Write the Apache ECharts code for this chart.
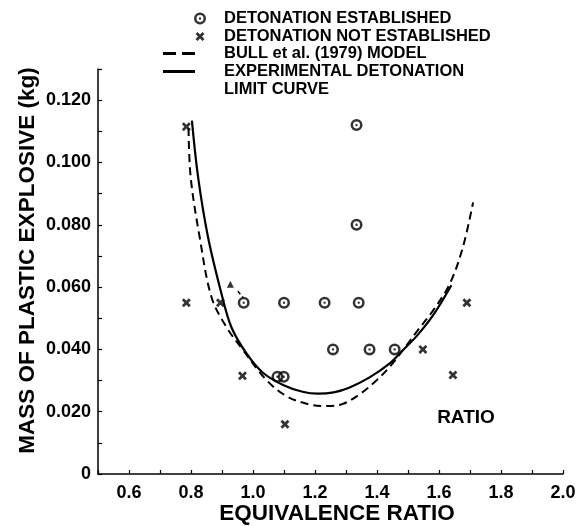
<!DOCTYPE html>
<html>
<head>
<meta charset="utf-8">
<script src="https://cdn.jsdelivr.net/npm/echarts@6/dist/echarts.min.js"></script>
<style>html,body{margin:0;padding:0;background:#fff;}#c{width:587px;height:526px;}</style>
</head>
<body>
<div id="c"></div>
<script>
// ---- data ----
const established = [
  [1.334, 0.112], [1.334, 0.080],
  [0.970, 0.055], [1.100, 0.055], [1.231, 0.055], [1.341, 0.055],
  [1.258, 0.040], [1.376, 0.040], [1.457, 0.040],
  [1.079, 0.0312], [1.099, 0.0312]
];
const notEstablished = [
  [0.785, 0.1115], [0.785, 0.055], [0.895, 0.055], [0.966, 0.0315],
  [1.103, 0.016], [1.548, 0.040], [1.645, 0.0318], [1.690, 0.055]
];
const bullModel = [
  [0.792, 0.111], [0.799, 0.0952], [0.828, 0.0760], [0.866, 0.0568],
  [0.914, 0.0472], [0.968, 0.0398], [1.043, 0.0302], [1.108, 0.0250],
  [1.183, 0.0223], [1.240, 0.0218], [1.290, 0.0225], [1.344, 0.0256],
  [1.398, 0.0300], [1.441, 0.0344], [1.484, 0.0398], [1.532, 0.0462],
  [1.581, 0.0525], [1.635, 0.0611], [1.677, 0.0728], [1.710, 0.0872]
];
const experimental = [
  [0.803, 0.1134], [0.823, 0.0952], [0.855, 0.0760], [0.898, 0.0580],
  [0.930, 0.0472], [0.979, 0.0387], [1.032, 0.0325], [1.097, 0.0286],
  [1.160, 0.0264], [1.210, 0.0258], [1.260, 0.0262], [1.310, 0.0277],
  [1.376, 0.0310], [1.441, 0.0355], [1.484, 0.0398], [1.530, 0.0445],
  [1.580, 0.0508], [1.640, 0.0606]
];
const triangle = [[0.927, 0.0609]];
const arrow = [[0.951, 0.0587], [0.968, 0.0566]];
const xTickLabels = ['0.6', '0.8', '1.0', '1.2', '1.4', '1.6', '1.8', '2.0'];
const yTickLabels = ['0', '0.020', '0.040', '0.060', '0.080', '0.100', '0.120'];

const FONT = '"Liberation Sans", Arial, Helvetica, sans-serif';
const ringPath = 'path://M0,10A10,10,0,1,1,20,10A10,10,0,1,1,0,10Z' +
  'M4.2,10A5.8,5.8,0,1,0,15.8,10A5.8,5.8,0,1,0,4.2,10Z' +
  'M8,10A2,2,0,1,1,12,10A2,2,0,1,1,8,10Z';
const crossPath = 'path://M0,2.2L2.2,0L5,2.8L7.8,0L10,2.2L7.2,5L10,7.8L7.8,10L5,7.2L2.2,10L0,7.8L2.8,5Z';
const dashIcon = 'path://M0,0H13V3H0ZM19,0H32V3H19Z';
const solidIcon = 'path://M0,0H32V3H0Z';

const legendText = (gap) => ({
  color: '#000', fontWeight: 'bold', fontSize: 16.5, fontFamily: FONT,
  rich: { s: { width: gap } }
});

const chart = echarts.init(document.getElementById('c'), null, { renderer: 'canvas' });
chart.setOption({
  animation: false,
  backgroundColor: '#fff',
  grid: { left: 98, right: 24, top: 69, bottom: 52, outerBoundsMode: 'none', containLabel: false },
  legend: [
    { data: ['DETONATION ESTABLISHED'], left: 194, top: 10, padding: 0, itemWidth: 12, itemHeight: 12,
      selectedMode: false, formatter: n => '{s| }' + n, textStyle: legendText(13) },
    { data: ['DETONATION NOT ESTABLISHED'], left: 195.5, top: 28, padding: 0, itemWidth: 9, itemHeight: 9,
      selectedMode: false, formatter: n => '{s| }' + n, textStyle: legendText(14.5) },
    { data: ['BULL et al. (1979) MODEL'], left: 163, top: 45, padding: 0, itemWidth: 32, itemHeight: 14,
      icon: dashIcon, itemStyle: { color: '#000' },
      selectedMode: false, formatter: n => '{s| }' + n, textStyle: legendText(24) },
    { data: ['EXPERIMENTAL DETONATION LIMIT CURVE'], left: 163, top: 63, padding: 0, itemWidth: 32, itemHeight: 14,
      icon: solidIcon, itemStyle: { color: '#000' },
      selectedMode: false, formatter: () => '{s| }EXPERIMENTAL DETONATION', textStyle: legendText(24) }
  ],
  graphic: [
    { type: 'text', left: 224, top: 81, style: { text: 'LIMIT CURVE', fill: '#000', font: 'bold 16.5px ' + FONT } },
    { type: 'text', x: 466, y: 418, style: { text: 'RATIO', fill: '#000', font: 'bold 19px ' + FONT, align: 'center', verticalAlign: 'middle' } }
  ],
  xAxis: {
    type: 'value', min: 0.5, max: 2.0, interval: 0.1,
    name: 'EQUIVALENCE RATIO', nameLocation: 'middle', nameGap: 28, nameMoveOverlap: false,
    nameTextStyle: { color: '#000', fontWeight: 'bold', fontSize: 22.5, fontFamily: FONT, padding: [0, 0, 0, 13] },
    axisLine: { lineStyle: { color: '#000', width: 1.5 } },
    axisTick: { inside: true, length: 4, lineStyle: { color: '#000', width: 1.2 } },
    splitLine: { show: false },
    axisLabel: {
      color: '#000', fontWeight: 'bold', fontSize: 18, fontFamily: FONT, margin: 10,
      formatter: v => { const s = v.toFixed(1); return xTickLabels.includes(s) ? s : ''; }
    }
  },
  yAxis: {
    type: 'value', min: 0, max: 0.13, interval: 0.01,
    name: 'MASS OF PLASTIC EXPLOSIVE (kg)', nameLocation: 'middle', nameGap: 59, nameRotate: 90, nameMoveOverlap: false,
    nameTextStyle: { color: '#000', fontWeight: 'bold', fontSize: 22.5, fontFamily: FONT, padding: [0, 0, 0, 22] },
    axisLine: { show: true, lineStyle: { color: '#000', width: 1.5 } },
    axisTick: { show: true, inside: true, length: 4, lineStyle: { color: '#000', width: 1.2 } },
    splitLine: { show: false },
    axisLabel: {
      color: '#000', fontWeight: 'bold', fontSize: 18, fontFamily: FONT, margin: 7,
      formatter: v => { const s = Math.round(v * 100) === 0 ? '0' : v.toFixed(3); return yTickLabels.includes(s) ? s : ''; }
    }
  },
  series: [
    { name: 'BULL et al. (1979) MODEL', type: 'line', data: bullModel, smooth: 0.35, symbol: 'none',
      lineStyle: { color: '#000', width: 2, type: [8, 5] }, itemStyle: { color: '#000' }, z: 2 },
    { name: 'EXPERIMENTAL DETONATION LIMIT CURVE', type: 'line', data: experimental, smooth: 0.35, symbol: 'none',
      lineStyle: { color: '#000', width: 2.2 }, itemStyle: { color: '#000' }, z: 2 },
    { name: 'DETONATION ESTABLISHED', type: 'scatter', data: established, symbol: ringPath, symbolSize: 12,
      itemStyle: { color: '#000' }, z: 3 },
    { name: 'DETONATION NOT ESTABLISHED', type: 'scatter', data: notEstablished, symbol: crossPath, symbolSize: 9,
      itemStyle: { color: '#000' }, z: 3 },
    { name: 'triangle', type: 'scatter', data: triangle, symbol: 'triangle', symbolSize: 7,
      itemStyle: { color: '#000' }, z: 3 },
    { name: 'arrow', type: 'line', data: arrow, symbol: 'none',
      lineStyle: { color: '#000', width: 1.5, type: [4, 3] }, z: 2 }
  ]
});
</script>
</body>
</html>
